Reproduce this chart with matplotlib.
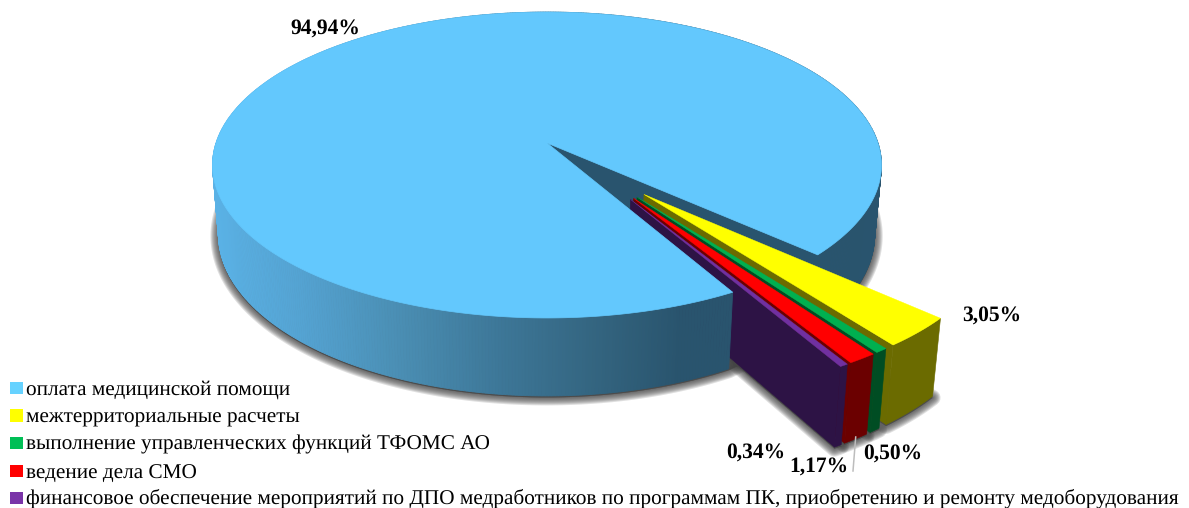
import numpy as np
import matplotlib
matplotlib.use("Agg")
import matplotlib.pyplot as plt
from matplotlib.colors import to_rgb
from matplotlib.patches import Polygon, Rectangle

plt.rcParams["text.hinting"] = "none"

categories = [
    "оплата медицинской помощи",
    "межтерриториальные расчеты",
    "выполнение управленческих функций ТФОМС АО",
    "ведение дела СМО",
    "финансовое обеспечение мероприятий по ДПО медработников по программам ПК, приобретению и ремонту медоборудования",
]
shares = [94.94, 3.05, 0.50, 1.17, 0.34]

top_colors = ["#63c8fd", "#ffff00", "#00b050", "#ff0000", "#7030a0"]
side_colors = ["#29546e", "#6b6b00", "#004d23", "#6b0000", "#2d1345"]
legend_colors = ["#66d2ff", "#ffff00", "#00bf56", "#ff0000", "#7a34a8"]
label_centers = [(325, 29), (992, 316), (893, 454), (819, 467), (756, 453)]

# Perspective projection of the unit disc onto the canvas (pixels)
CX, CY, SX, SY, PERSP = 547.0, 143.0, 331.0, 149.8, 0.1438
VANISH_X, SHRINK, DROP_BASE, DROP_SLOPE, DROP_REF = 525.0, 0.981, 69.0, 0.055, 155.0
FIRST_GAP_ANGLE = 42.4
EXPLODE = 0.43
SPREAD = 0.55  # how far each small slice's pull-out direction follows its own bisector


def project(u, v):
    w = 1 - PERSP * np.asarray(v)
    return CX + SX * np.asarray(u) / w, CY + SY * np.asarray(v) / w


def drop(x, y):
    """Lower face of the extruded pie for a point on its upper face."""
    return (VANISH_X + (x - VANISH_X) * SHRINK,
            y + DROP_BASE + DROP_SLOPE * (y - DROP_REF))


def sector(a0, a1, offset=(0.0, 0.0), steps=None):
    steps = steps or max(3, int(abs(a1 - a0) * 2))
    t = np.radians(np.linspace(a0, a1, steps))
    return project(offset[0] + np.cos(t), offset[1] + np.sin(t))


def wall_shade(x):
    """Horizontal shading of the outer wall of the large slice."""
    stops = [212, 300, 400, 500, 600, 680, 900]
    cols = np.array([to_rgb(c) for c in
                     ["#5ab2e6", "#54a3d2", "#4a8eb3", "#3d7798", "#33647f", "#29546e", "#29546e"]])
    return tuple(np.interp(x, stops, cols[:, i]) for i in range(3))


def draw_wall(a0, a1, z):
    x, y = sector(a0, a1)
    bx, by = drop(x, y)
    for i in np.argsort(y[:-1]):
        col = wall_shade((x[i] + x[i + 1]) / 2)
        ax.add_patch(Polygon([(x[i], y[i]), (x[i + 1], y[i + 1]), (bx[i + 1], by[i + 1]), (bx[i], by[i])],
                             closed=True, facecolor=col, edgecolor=col, lw=0.6, zorder=z))


fig = plt.figure(figsize=(11.89, 5.08), dpi=100)
ax = fig.add_axes([0, 0, 1, 1])
ax.set_xlim(0, 1189)
ax.set_ylim(508, 0)
ax.axis("off")

# Angular extents: the small slices run clockwise from the gap edge
sweep = np.array(shares) / sum(shares) * 360
ends = FIRST_GAP_ANGLE + np.cumsum(sweep[1:])
starts = ends - sweep[1:]
main_a0, main_a1 = ends[-1], FIRST_GAP_ANGLE + 360
group_mid = (FIRST_GAP_ANGLE + main_a0) / 2


def pull_out(a0, a1):
    direction = np.radians(group_mid + ((a0 + a1) / 2 - group_mid) * SPREAD)
    return EXPLODE * np.cos(direction), EXPLODE * np.sin(direction)


# Soft drop shadow, built up from nested strokes
outlines = []
x, y = sector(main_a0, main_a1)
bx, by = drop(x, y)
outlines.append(np.column_stack([bx, by]))
for a0, a1 in zip(starts, ends):
    off = pull_out(a0, a1)
    sx, sy = sector(a0, a1, off)
    px, py = project(off[0], off[1])
    sbx, sby = drop(np.r_[px, sx], np.r_[py, sy])
    outlines.append(np.column_stack([sbx, sby]))
for lw in np.arange(11.5, 0, -1.5):
    for pts in outlines:
        ax.add_patch(Polygon(pts + [0, 1.5], closed=True, facecolor="#444444", edgecolor="#444444",
                             lw=lw, alpha=0.17, joinstyle="round", zorder=1))

z = 2
# Back-right part of the wall and the inner wall seen through the gap
draw_wall(360, main_a1, z)
apex = project(0.0, 0.0)
apex_b = drop(*apex)
z += 1
ax.add_patch(Polygon([apex, (x[-1], y[-1]), (bx[-1], by[-1]), apex_b], closed=True,
                     facecolor=side_colors[0], edgecolor=side_colors[0], lw=0.5, zorder=z))
z += 1

# Exploded small slices, back to front
for k, (a0, a1) in enumerate(zip(starts, ends), start=1):
    off = pull_out(a0, a1)
    sx, sy = sector(a0, a1, off)
    sbx, sby = drop(sx, sy)
    px, py = project(off[0], off[1])
    qx, qy = drop(px, py)
    side = side_colors[k]
    ax.add_patch(Polygon([(px, py), (sx[-1], sy[-1]), (sbx[-1], sby[-1]), (qx, qy)], closed=True,
                         facecolor=side, edgecolor=side, lw=0.4, zorder=z))
    ax.add_patch(Polygon(np.column_stack([np.r_[sx, sbx[::-1]], np.r_[sy, sby[::-1]]]), closed=True,
                         facecolor=side, edgecolor=side, lw=0.4, zorder=z))
    ax.add_patch(Polygon(np.column_stack([np.r_[px, sx], np.r_[py, sy]]), closed=True,
                         facecolor=top_colors[k], edgecolor=top_colors[k], lw=0.3, zorder=z))
    z += 1

# Front wall and upper face of the large slice hide the inner ends of the small ones
draw_wall(main_a0, 360.5, z)
z += 1
ax.add_patch(Polygon(np.column_stack([np.r_[apex[0], x], np.r_[apex[1], y]]), closed=True,
                     facecolor=top_colors[0], edgecolor=top_colors[0], lw=0.5, zorder=z))
z += 1

# Leader line for the 1,17% label
ax.plot([855.7, 853], [437, 471], color="#bdbdbd", lw=1.1, zorder=z)

# Value labels
for val, (lx, ly) in zip(shares, label_centers):
    ax.text(lx, ly, f"{val:.2f}%".replace(".", ","), family="Liberation Serif", weight="bold",
            fontsize=15.5, ha="center", va="center", color="black", zorder=z + 1)

# Legend
marker_y = [388, 415.5, 443, 471, 498]
baseline_y = [394.5, 422.5, 449.5, 477.5, 503.5]
for name, col, my, by_ in zip(categories, legend_colors, marker_y, baseline_y):
    ax.add_patch(Rectangle((10, my - 6.25), 13, 12.5, facecolor=col, edgecolor="none", zorder=z))
    ax.text(26, by_, name, family="Liberation Serif", fontsize=15.35, ha="left",
            va="baseline", color="black", zorder=z + 1)

fig.savefig("out.png", dpi=100, facecolor="white")
